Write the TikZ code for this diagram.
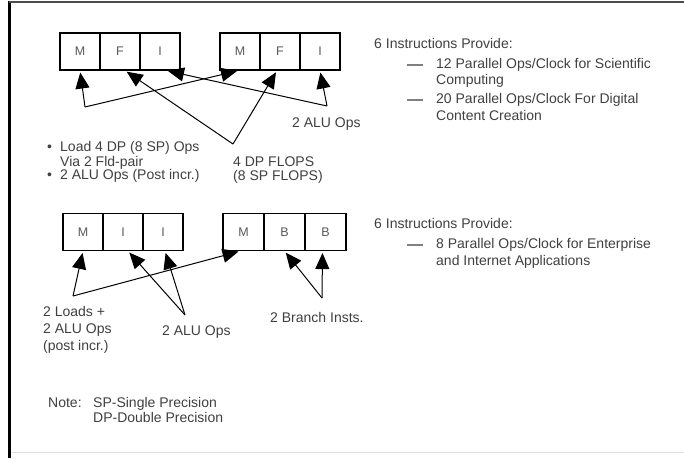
\documentclass[tikz,border=0pt]{standalone}
\usepackage{fontspec}
\setmainfont{Liberation Sans}
\usetikzlibrary{arrows.meta}
\begin{document}
\begin{tikzpicture}[x=1pt,y=-1pt,
  cell/.style={draw=black, line width=1.1pt, minimum width=40pt, minimum height=37pt,
    inner sep=0pt, font=\fontsize{12.5}{14}\selectfont, text=black!65},
  lbl/.style={anchor=base west, inner sep=0pt, font=\fontsize{14}{16}\selectfont, text=black!75},
  arr/.style={draw=black, line width=1pt, -{Triangle[length=16pt,width=14pt]}, shorten >=2pt},
  dashmark/.style={draw=black!50, line width=2.5pt}
]
\useasboundingbox (0,0) rectangle (684,458);
\fill[white] (0,0) rectangle (684,458);

% page frame
\draw[line width=3pt] (9.5,1) -- (9.5,458);
\draw[line width=1.8pt, black!70] (9,2) -- (684,2);
\draw[line width=1pt, black!12] (11,452) -- (684,452);

% ---------- upper bundle pair: M F I | M F I ----------
\node[cell] (t1m) at (80,51.5)  {M};
\node[cell] (t1f) at (120,51.5) {F};
\node[cell] (t1i) at (160,51.5) {I};
\node[cell] (t2m) at (240,51.5) {M};
\node[cell] (t2f) at (280,51.5) {F};
\node[cell] (t2i) at (320,51.5) {I};

\coordinate (ta) at (85,107);
\coordinate (tb) at (233,144);
\coordinate (tc) at (327,106);

\draw[arr] (ta) -- (t1m.south);
\draw[arr] (ta) -- ([xshift=-1pt]t2m.south);
\draw[arr] (tb) -- ([xshift=5pt]t1f.south);
\draw[arr] (tb) -- ([xshift=-3pt]t2f.south);
\draw[arr] (tc) -- ([xshift=6pt]t1i.south);
\draw[arr] (tc) -- (t2i.south);

\node[lbl] (alu1) at (292,127) {2 ALU Ops};
\node[lbl] (bul1) at (47,151) {\textbullet};
\node[lbl] (ld1)  at (60,151) {Load 4 DP (8 SP) Ops};
\node[lbl] (ld2)  at (60,166) {Via 2 Fld-pair};
\node[lbl] (bul2) at (47,179) {\textbullet};
\node[lbl] (ld3)  at (60,179) {2 ALU Ops (Post incr.)};
\node[lbl] (fl1)  at (233,166) {4 DP FLOPS};
\node[lbl] (fl2)  at (233,180) {(8 SP FLOPS)};

\node[lbl] (hd1) at (374,48) {6 Instructions Provide:};
\draw[dashmark] (407,65) -- (423,65);
\node[lbl] (p1a) at (436,68) {12 Parallel Ops/Clock for Scientific};
\node[lbl] (p1b) at (436,84) {Computing};
\draw[dashmark] (407,100) -- (423,100);
\node[lbl] (p2a) at (436,103) {20 Parallel Ops/Clock For Digital};
\node[lbl] (p2b) at (436,120) {Content Creation};

% ---------- lower bundle pair: M I I | M B B ----------
\begin{scope}[every node/.append style={minimum height=36pt}]
\node[cell] (b1m) at (83,232)  {M};
\node[cell] (b1i) at (123,232) {I};
\node[cell] (b1j) at (163,232) {I};
\node[cell, minimum width=41pt] (b2m) at (243.5,232) {M};
\node[cell, minimum width=41pt] (b2b) at (284.5,232) {B};
\node[cell, minimum width=41pt] (b2c) at (325.5,232) {B};
\end{scope}

\coordinate (ba) at (73,296);
\coordinate (bb) at (185,315);
\coordinate (bc) at (322,298);

\draw[arr] (ba) -- (b1m.south);
\draw[arr] (ba) -- ([xshift=-3pt]b2m.south);
\draw[arr] (bb) -- ([xshift=5pt]b1i.south);
\draw[arr] (bb) -- ([xshift=2pt]b1j.south);
\draw[arr] (bc) -- (b2b.south);
\draw[arr] (bc) -- ([xshift=-3pt]b2c.south);

\node[lbl] (lo1) at (43,316) {2 Loads +};
\node[lbl] (lo2) at (43,333) {2 ALU Ops};
\node[lbl] (lo3) at (43,350) {(post incr.)};
\node[lbl] (alu2) at (162,335) {2 ALU Ops};
\node[lbl] (br)  at (270,322) {2 Branch Insts.};

\node[lbl] (hd2) at (374,228) {6 Instructions Provide:};
\draw[dashmark] (407,245) -- (423,245);
\node[lbl] (p3a) at (436,248) {8 Parallel Ops/Clock for Enterprise};
\node[lbl] (p3b) at (436,265) {and Internet Applications};

% ---------- note ----------
\node[lbl] (nt) at (48,407) {Note:};
\node[lbl] (sp) at (93,407) {SP-Single Precision};
\node[lbl] (dp) at (93,422) {DP-Double Precision};
\end{tikzpicture}
\end{document}
